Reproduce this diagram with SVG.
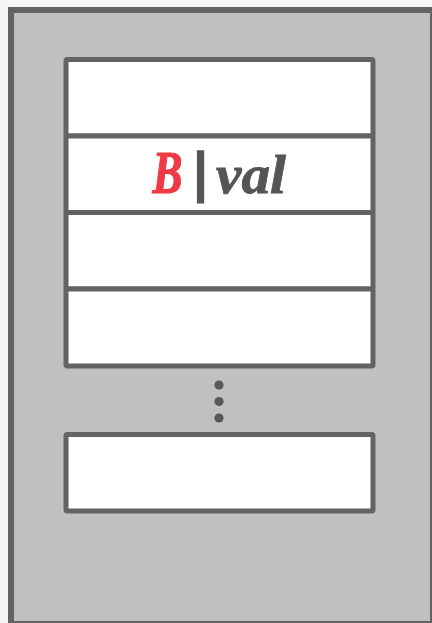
<svg xmlns="http://www.w3.org/2000/svg" width="432" height="623" viewBox="0 0 432 623">
<style>
.cell{fill:#ffffff;stroke:#636363;stroke-width:5;stroke-linejoin:round}
.dot{fill:#585858}
.t{font-family:"Liberation Serif",serif;font-weight:bold;font-style:italic}
</style>
<rect x="0" y="0" width="432" height="623" fill="#f5f5f5"/>
<g id="container">
<rect x="11" y="10" width="422" height="614" fill="#c0c0c0" stroke="#636363" stroke-width="6"/>
</g>
<g id="cell1"><rect class="cell" x="66" y="59.5" width="307" height="76.5" rx="1.5"/></g>
<g id="cell2"><rect class="cell" x="66" y="136" width="307" height="76.5" rx="1.5"/>
<text class="t" y="193" font-size="54" fill="#555555" stroke="#555555" stroke-width="0.8"><tspan x="152.5" font-size="62" fill="#ee3a44" stroke="#ee3a44" stroke-width="1.2" textLength="30" lengthAdjust="spacingAndGlyphs">B</tspan><tspan x="191.2" y="189.5" font-family="DejaVu Sans" font-style="normal" font-size="51" stroke-width="1.6">|</tspan><tspan x="216" y="193" textLength="70" lengthAdjust="spacingAndGlyphs">val</tspan></text>
</g>
<g id="cell3"><rect class="cell" x="66" y="212.5" width="307" height="76.5" rx="1.5"/></g>
<g id="cell4"><rect class="cell" x="66" y="289" width="307" height="77" rx="1.5"/></g>
<g id="ellipsis">
<circle class="dot" cx="219" cy="385" r="4.6"/>
<circle class="dot" cx="219" cy="401.5" r="4.6"/>
<circle class="dot" cx="219" cy="418" r="4.6"/>
</g>
<g id="cellN"><rect class="cell" x="66" y="434.5" width="307" height="76.5" rx="1.5"/></g>
<g id="connectors"></g>
</svg>
